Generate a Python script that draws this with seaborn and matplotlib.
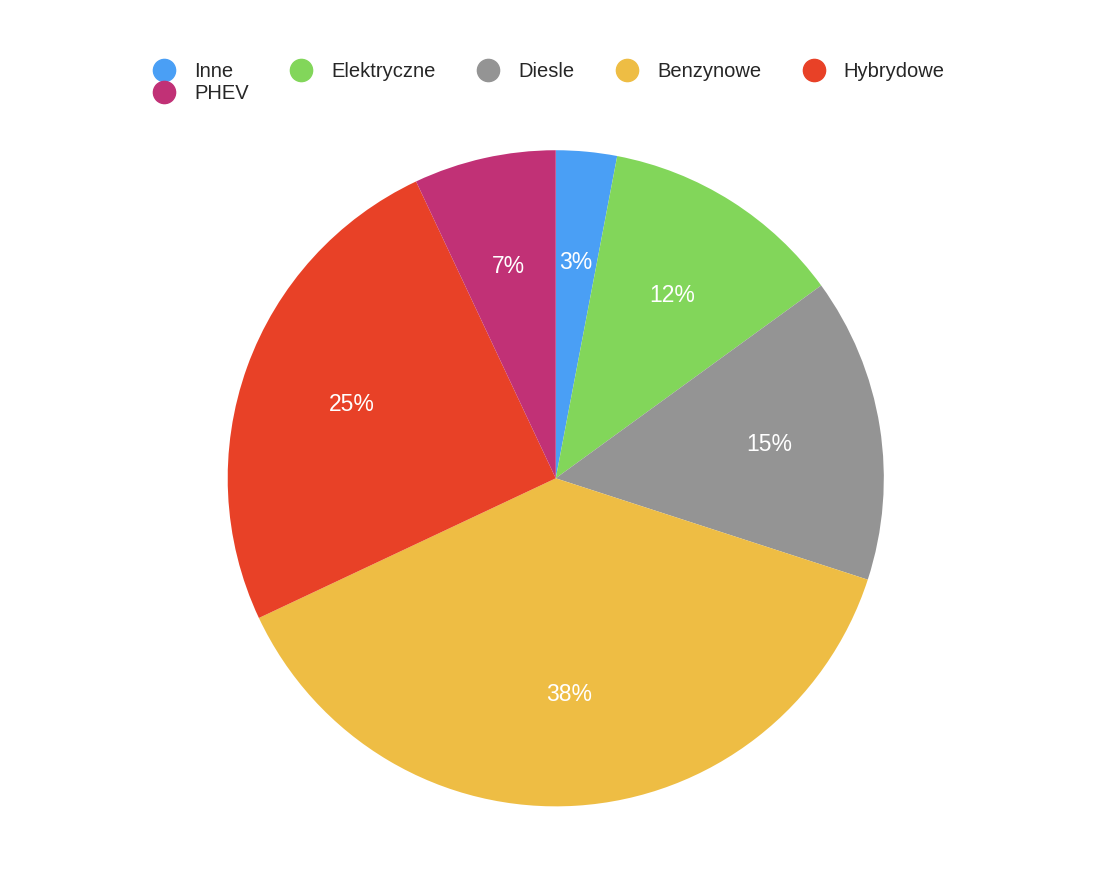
import matplotlib.pyplot as plt
import seaborn as sns
from matplotlib.lines import Line2D

sns.set_style("white")
plt.rcParams['font.family'] = ['Liberation Sans', 'DejaVu Sans']

# Data
labels = ['Inne', 'Elektryczne', 'Diesle', 'Benzynowe', 'Hybrydowe', 'PHEV']
values = [3, 12, 15, 38, 25, 7]
colors = ['#4A9FF5', '#82D65A', '#949494', '#EEBD44', '#E84127', '#C13176']

fig = plt.figure(figsize=(10.94, 8.76), dpi=100)
ax = fig.add_axes([0.508 - 0.3, 0.454 - 0.3745, 0.6, 0.749])

ax.pie(values, colors=colors, startangle=90, counterclock=False,
       autopct='%d%%', pctdistance=0.66, wedgeprops={'linewidth': 0},
       textprops={'color': 'white', 'fontsize': 16.5})
ax.set_xlim(-1, 1)
ax.set_ylim(-1, 1)
ax.set_aspect('equal')

handles = [Line2D([], [], marker='o', linestyle='', markersize=16,
                  markerfacecolor=c, markeredgecolor=c) for c in colors]
# legend fills column by column; reorder so rows read in data order
order = [0, 5, 1, 2, 3, 4]
fig.legend([handles[i] for i in order], [labels[i] for i in order],
           loc='upper left', bbox_to_anchor=(0.115, 0.95),
           ncol=5, frameon=False, fontsize=14.5, handletextpad=0.5,
           columnspacing=1.6, labelspacing=0.15)

plt.savefig('out.png', dpi=100)
